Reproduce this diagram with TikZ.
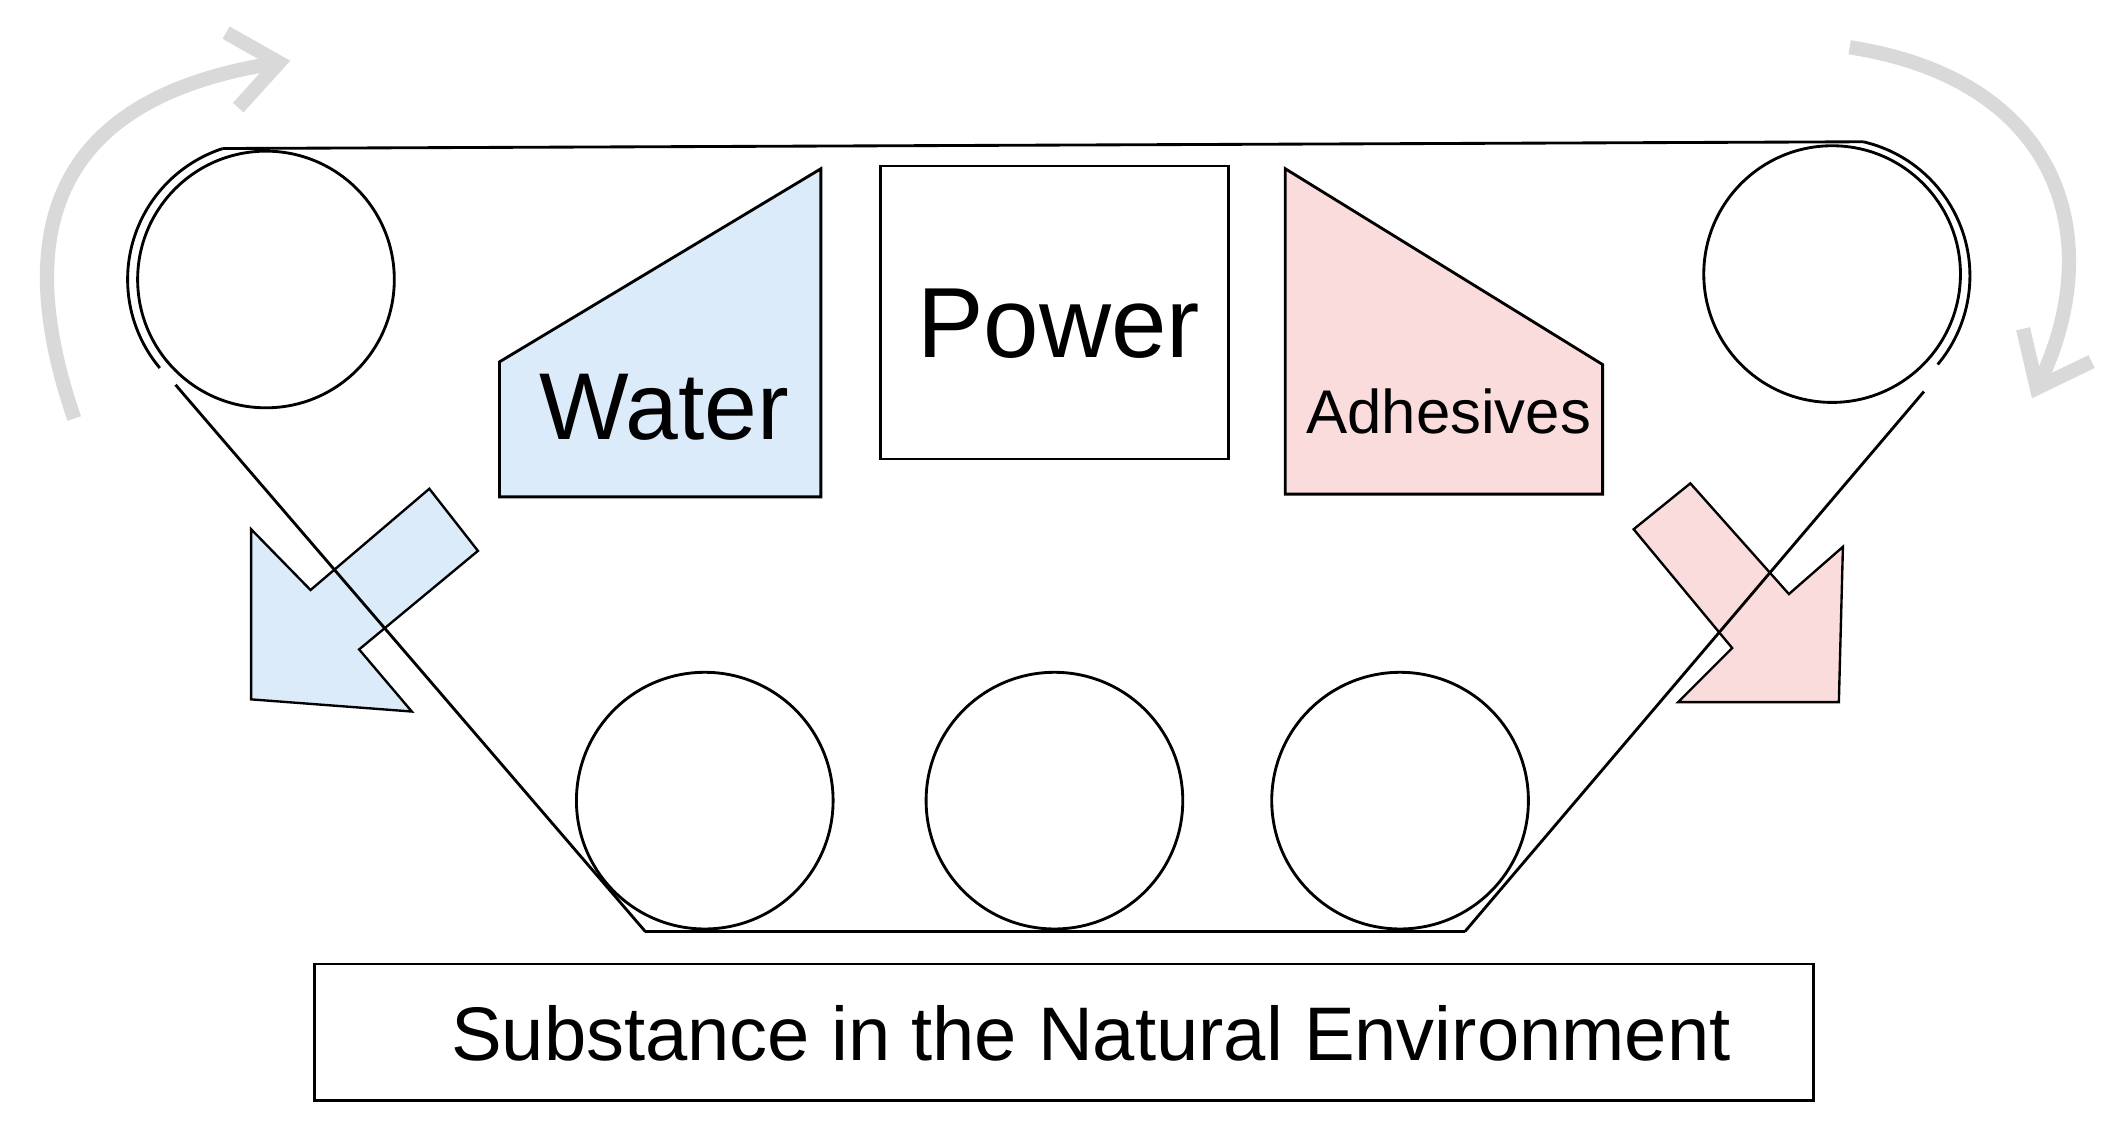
\documentclass[tikz,border=0pt]{standalone}
\usepackage{fontspec}
\setmainfont{Liberation Sans}
\usetikzlibrary{arrows.meta}
\begin{document}
\begin{tikzpicture}[x=0.01cm,y=-0.01cm,
  roller/.style={circle,draw,line width=0.6pt,minimum size=1.9cm,inner sep=0pt},
  ln/.style={line width=0.6pt},
  gr/.style={line width=3pt,draw=black!15,->,>={Straight Barb[length=10pt,width=16pt]}}]
\useasboundingbox (0,0) rectangle (1568,830);
\definecolor{lb}{HTML}{DCEBFA}
\definecolor{lp}{HTML}{FBDCDC}
% arrows (under)
\filldraw[fill=lb,line width=0.5pt] (186,392)--(230,437)--(318,362)--(354,408)--(266,481)--(305,527)--(186,518)--cycle;
\filldraw[fill=lp,line width=0.5pt] (1365,405)--(1325,440)--(1252,358)--(1210,392)--(1283,480)--(1243,520)--(1362,520)--cycle;
% rollers
\node[roller] (r1) at (197,207) {};
\node[roller] (r2) at (1357,203) {};
\node[roller] (b1) at (522,593) {};
\node[roller] (b2) at (781,593) {};
\node[roller] (b3) at (1037,593) {};
% belt
\coordinate (tl) at (165,110); \coordinate (tr) at (1380,105);
\coordinate (bl) at (478,690); \coordinate (br) at (1085,690);
\draw[ln] (tl)--(tr);
\draw[ln] (bl)--(br);
\draw[ln] (130,285)--(bl);
\draw[ln] (br)--(1425,290);
\draw[ln] (tl) arc (-108:-220:102);
\draw[ln] (tr) arc (-77:40:102);
% boxes
\filldraw[fill=lb,ln] (370,268)--(608,125)--(608,368)--(370,368)--cycle;
\node[font=\fontsize{20}{20}\selectfont] (w) at (492,302) {Water};
\draw[ln] (652,123) rectangle (910,340);
\node[font=\fontsize{21}{21}\selectfont] (p) at (784,240) {Power};
\filldraw[fill=lp,ln] (952,125)--(1187,270)--(1187,366)--(952,366)--cycle;
\node[font=\fontsize{13}{13}\selectfont] (a) at (1073,305) {Adhesives};
\draw[ln] (233,714) rectangle (1343,815);
\node[font=\fontsize{16}{16}\selectfont] (s) at (808,765) {Substance in the Natural Environment};
% gray curved arrows
\draw[gr] (55,310) .. controls (0,150) and (60,70) .. (215,45);
\draw[gr] (1370,35) .. controls (1530,60) and (1560,180) .. (1505,295);
\end{tikzpicture}
\end{document}
